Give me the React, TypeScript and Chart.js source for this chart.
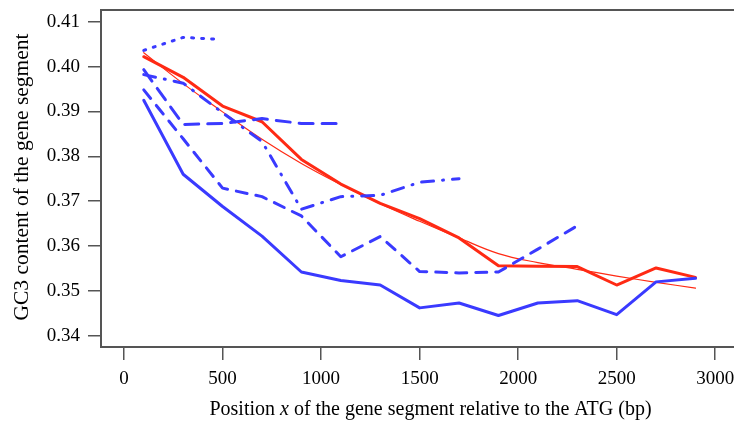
import React, { useEffect, useRef } from "react";
import { Chart, registerables } from "chart.js";

Chart.register(...registerables);

const X_POS = [100, 300, 500, 700, 900, 1100, 1300, 1500, 1700, 1900, 2100, 2300, 2500, 2700, 2900];
const X_TICKS = [0, 500, 1000, 1500, 2000, 2500, 3000];
const Y_TICKS = [0.34, 0.35, 0.36, 0.37, 0.38, 0.39, 0.4, 0.41];

const BLUE_SOLID = [0.3925, 0.376, 0.3688, 0.3622, 0.3542, 0.3523, 0.3513, 0.3462, 0.3473, 0.3445, 0.3473, 0.3478, 0.3447, 0.352, 0.3528];
const RED_THICK = [0.4022, 0.3976, 0.3912, 0.3877, 0.3793, 0.3738, 0.3695, 0.3661, 0.3618, 0.3556, 0.3555, 0.3554, 0.3513, 0.3551, 0.353];
const RED_THIN = [0.4031, 0.3962, 0.3899, 0.3838, 0.3784, 0.3737, 0.3694, 0.3655, 0.3618, 0.3583, 0.3563, 0.3548, 0.3533, 0.3519, 0.3506];

const DOTTED_X = [100, 300, 470];
const BLUE_DOTTED = [0.4036, 0.4065, 0.4061];
const BLUE_LONGDASH = [0.3993, 0.3871, 0.3873, 0.3884, 0.3873, 0.3873];
const BLUE_DASHDOT = [0.3982, 0.3963, 0.3897, 0.3833, 0.3682, 0.371, 0.3713, 0.3742, 0.375];
const BLUE_DASHED = [0.3948, 0.3839, 0.3729, 0.371, 0.3667, 0.3576, 0.3621, 0.3543, 0.354, 0.3542, 0.3593, 0.3645];

const X_TITLE_PARTS = [
  { text: "Position ", italic: false },
  { text: "x", italic: true },
  { text: " of the gene segment relative to the ATG (bp)", italic: false },
];
const Y_TITLE = "GC3 content of the gene segment";

const BLUE = "#3a3aff";
const RED = "#ff2a14";
const AXIS = "#555555";
const FONT = "'Liberation Serif', 'DejaVu Serif', serif";

const pts = (xs: number[], ys: number[]) => ys.map((y, i) => ({ x: xs[i], y }));

export default function App() {
  const ref = useRef<HTMLCanvasElement | null>(null);
  useEffect(() => {
    if (!ref.current) return;
    const boxPlugin = {
      id: "box",
      afterDatasetsDraw(chart: any) {
        const { ctx, chartArea: a } = chart;
        ctx.save();
        ctx.strokeStyle = AXIS;
        ctx.lineWidth = 2;
        ctx.strokeRect(a.left, a.top, a.right - a.left, a.bottom - a.top);
        ctx.restore();
      },
      afterDraw(chart: any) {
        const { ctx } = chart;
        ctx.save();
        ctx.fillStyle = "#000";
        ctx.textBaseline = "middle";
        // x title with italic x
        const fx = (it: boolean) => `${it ? "italic " : ""}20px ${FONT}`;
        let total = 0;
        for (const p of X_TITLE_PARTS) { ctx.font = fx(p.italic); total += ctx.measureText(p.text).width; }
        let cx = 430.5 - total / 2;
        ctx.textAlign = "left";
        for (const p of X_TITLE_PARTS) {
          ctx.font = fx(p.italic);
          ctx.fillText(p.text, cx, 410);
          cx += ctx.measureText(p.text).width;
        }
        // y title
        ctx.translate(22, 177);
        ctx.rotate(-Math.PI / 2);
        ctx.textAlign = "center";
        ctx.font = `21.5px ${FONT}`;
        ctx.fillText(Y_TITLE, 0, 0);
        ctx.restore();
      },
    };
    const common = { pointRadius: 0, fill: false, tension: 0, borderCapStyle: "round", borderJoinStyle: "round" };
    const chart = new Chart(ref.current, {
      type: "line",
      data: {
        datasets: [
          { ...common, data: pts(X_POS, BLUE_SOLID), borderColor: BLUE, borderWidth: 3 },
          { ...common, data: pts(X_POS, BLUE_DASHED), borderColor: BLUE, borderWidth: 3, borderDash: [11, 9] },
          { ...common, data: pts(X_POS, BLUE_DASHDOT), borderColor: BLUE, borderWidth: 3, borderDash: [12, 9, 1, 9] },
          { ...common, data: pts(X_POS, BLUE_LONGDASH), borderColor: BLUE, borderWidth: 3, borderDash: [14, 9] },
          { ...common, data: pts(DOTTED_X, BLUE_DOTTED), borderColor: BLUE, borderWidth: 3, borderDash: [2, 8] },
          { ...common, data: pts(X_POS, RED_THIN), borderColor: RED, borderWidth: 1.2, tension: 0.4 },
          { ...common, data: pts(X_POS, RED_THICK), borderColor: RED, borderWidth: 3 },
        ] as any,
      },
      options: {
        animation: false,
        responsive: false,
        maintainAspectRatio: false,
        layout: { padding: { top: 10, right: 0, left: 0, bottom: 0 } },
        plugins: { legend: { display: false }, tooltip: { enabled: false } },
        scales: {
          x: {
            type: "linear",
            min: -117,
            max: 3136,
            afterBuildTicks: (s: any) => { s.ticks = X_TICKS.map((v) => ({ value: v })); },
            afterFit: (s: any) => { s.height = 74; s.paddingLeft = 0; s.paddingRight = 0; },
            grid: { drawOnChartArea: false, drawTicks: true, tickLength: 13, color: AXIS, lineWidth: 1.5 },
            border: { display: false },
            ticks: {
              color: "#000",
              font: { family: FONT, size: 19 },
              padding: 8,
              maxRotation: 0,
              autoSkip: false,
              callback: (v: any) => String(v),
            },
            title: { display: false },
          },
          y: {
            type: "linear",
            min: 0.33748,
            max: 0.41261,
            afterBuildTicks: (s: any) => { s.ticks = Y_TICKS.map((v) => ({ value: v })); },
            afterFit: (s: any) => { s.width = 101; s.paddingTop = 0; s.paddingBottom = 0; },
            grid: { drawOnChartArea: false, drawTicks: true, tickLength: 13, color: AXIS, lineWidth: 1.5 },
            border: { display: false },
            ticks: {
              color: "#000",
              font: { family: FONT, size: 19 },
              padding: 8,
              callback: (v: any) => Number(v).toFixed(2),
            },
            title: { display: false },
          },
        },
      } as any,
      plugins: [boxPlugin],
    });
    return () => chart.destroy();
  }, []);
  return (
    <div style={{ position: "fixed", left: 0, top: 0, width: 734, height: 421, overflow: "hidden", background: "#fff" }}>
      <canvas ref={ref} width={742} height={421} style={{ width: 742, height: 421, display: "block" }} />
    </div>
  );
}
